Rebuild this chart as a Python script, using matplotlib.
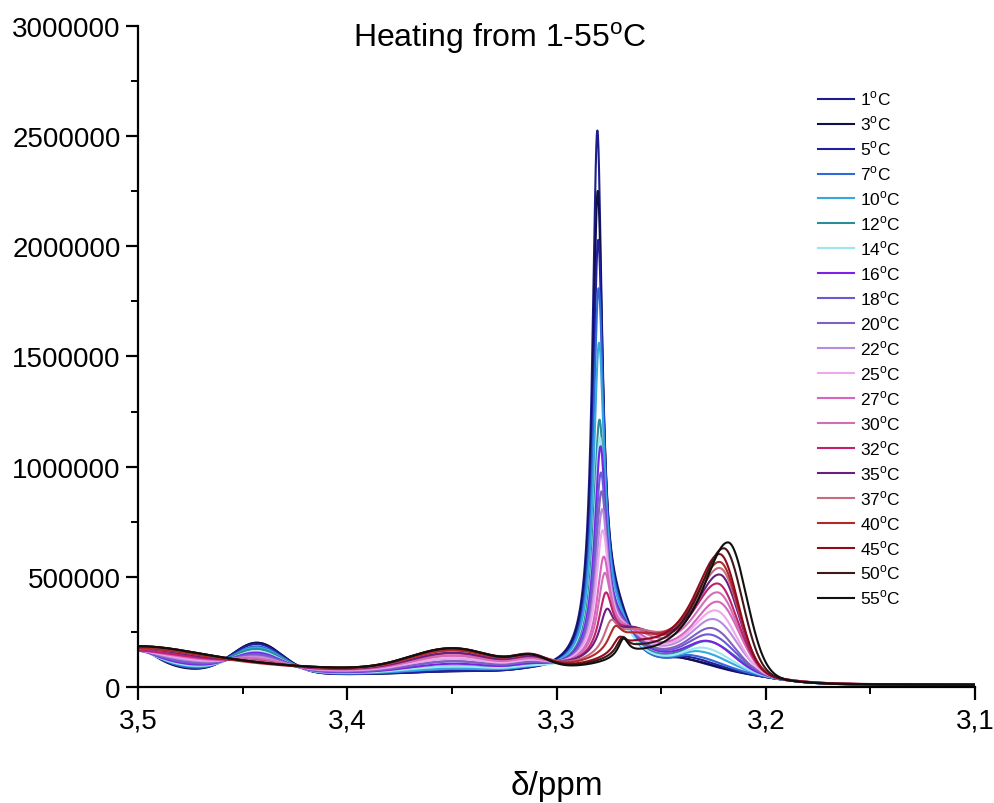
import numpy as np
import matplotlib
matplotlib.use("Agg")
import matplotlib.pyplot as plt
from matplotlib import ticker

plt.rcParams["font.family"] = ["Liberation Sans", "DejaVu Sans"]
plt.rcParams["mathtext.fontset"] = "custom"
plt.rcParams["mathtext.rm"] = "Liberation Sans"

# temperatures of the heating series (°C)
temps = [1, 3, 5, 7, 10, 12, 14, 16, 18, 20, 22, 25, 27, 30, 32, 35, 37, 40, 45, 50, 55]

colors = ["#1c1c8c", "#10104a", "#2020a0", "#2f6ad8", "#35a8e0", "#2a8c98", "#9ce6f2",
          "#7b22e6", "#6a5ad6", "#8060c0", "#b88be0", "#f0a8ec", "#d864c0", "#d070b4",
          "#c0206c", "#6a1f80", "#c86a80", "#b02a2a", "#900c1c", "#401818", "#101010"]

# sharp resonance near 3.28 ppm
main_pos = [3.2805, 3.2803, 3.2801, 3.2799, 3.2797, 3.2795, 3.2793, 3.2790, 3.2788, 3.2785,
            3.2782, 3.2780, 3.2775, 3.2770, 3.2765, 3.2760, 3.2740, 3.2720, 3.2700, 3.2685, 3.2680]
main_h = [2.34e6, 2.07e6, 1.85e6, 1.64e6, 1.39e6, 1.05e6, 0.975e6, 0.93e6, 0.82e6, 0.73e6,
          0.65e6, 0.55e6, 0.43e6, 0.35e6, 0.26e6, 0.175e6, 0.12e6, 0.09e6, 0.06e6, 0.07e6, 0.08e6]
main_w = [0.0028, 0.0029, 0.0030, 0.0031, 0.0032, 0.0033, 0.0033, 0.0034, 0.0035, 0.0035,
          0.0036, 0.0037, 0.0038, 0.0039, 0.0040, 0.0041, 0.0040, 0.0038, 0.0035, 0.0032, 0.0030]

# broad shoulder on the high-field side of the sharp resonance
shoulder_pos = [3.272, 3.272, 3.272, 3.2715, 3.271, 3.270, 3.270, 3.269, 3.268, 3.268, 3.267,
                3.267, 3.266, 3.265, 3.264, 3.264, 3.263, 3.263, 3.262, 3.262, 3.262]
shoulder_h = [0.22e6, 0.21e6, 0.20e6, 0.19e6, 0.18e6, 0.17e6, 0.16e6, 0.16e6, 0.15e6, 0.15e6,
              0.14e6, 0.14e6, 0.14e6, 0.14e6, 0.14e6, 0.14e6, 0.13e6, 0.11e6, 0.07e6, 0.05e6, 0.03e6]
shoulder_w = [0.010, 0.010, 0.010, 0.010, 0.011, 0.011, 0.011, 0.012, 0.012, 0.012, 0.013,
              0.013, 0.013, 0.014, 0.014, 0.015, 0.015, 0.015, 0.015, 0.015, 0.015]

# asymmetric resonance growing near 3.22 ppm
sec_pos = [3.242, 3.240, 3.238, 3.236, 3.232, 3.228, 3.230, 3.228, 3.227, 3.226, 3.225,
           3.224, 3.223, 3.223, 3.223, 3.222, 3.222, 3.222, 3.222, 3.220, 3.218]
sec_h = [0.05e6, 0.05e6, 0.06e6, 0.07e6, 0.09e6, 0.14e6, 0.11e6, 0.14e6, 0.17e6, 0.20e6, 0.24e6,
         0.28e6, 0.32e6, 0.36e6, 0.40e6, 0.44e6, 0.47e6, 0.50e6, 0.54e6, 0.57e6, 0.60e6]
sec_wl = [0.012, 0.012, 0.012, 0.012, 0.014, 0.015, 0.015, 0.016, 0.016, 0.016, 0.016,
          0.016, 0.016, 0.016, 0.016, 0.016, 0.016, 0.016, 0.016, 0.016, 0.016]
sec_sr = [0.016, 0.016, 0.015, 0.015, 0.014, 0.013, 0.013, 0.012, 0.012, 0.011, 0.011,
          0.010, 0.010, 0.0095, 0.0095, 0.009, 0.009, 0.0088, 0.0087, 0.0087, 0.0087]

# 3.30-3.50 region
edge_narrow = [0.13e6, 0.12e6, 0.12e6, 0.11e6, 0.10e6, 0.09e6, 0.08e6, 0.07e6, 0.06e6, 0.05e6,
               0.04e6, 0.03e6, 0.02e6, 0.02e6, 0.01e6, 0.01e6, 0.0, 0.0, 0.0, 0.0, 0.0]
edge_broad = [0.0, 0.0, 0.01e6, 0.01e6, 0.02e6, 0.03e6, 0.03e6, 0.04e6, 0.05e6, 0.06e6, 0.07e6,
              0.08e6, 0.09e6, 0.10e6, 0.10e6, 0.11e6, 0.12e6, 0.12e6, 0.13e6, 0.13e6, 0.13e6]
hump_344 = [0.14e6, 0.14e6, 0.13e6, 0.12e6, 0.11e6, 0.10e6, 0.09e6, 0.08e6, 0.07e6, 0.06e6,
            0.05e6, 0.04e6, 0.03e6, 0.03e6, 0.02e6, 0.01e6, 0.01e6, 0.0, 0.0, 0.0, 0.0]
hump_335 = [0.01e6, 0.01e6, 0.01e6, 0.02e6, 0.02e6, 0.03e6, 0.03e6, 0.04e6, 0.05e6, 0.05e6,
            0.06e6, 0.06e6, 0.07e6, 0.07e6, 0.08e6, 0.08e6, 0.09e6, 0.09e6, 0.10e6, 0.10e6, 0.10e6]

x = np.linspace(3.1, 3.5, 3000)


def lor(x, p, h, w):
    return h / (1 + ((x - p) / w) ** 2)


def gau(x, p, h, w):
    return h * np.exp(-0.5 * ((x - p) / w) ** 2)


def split_peak(x, p, h, wl, sr):
    # Lorentzian towards higher ppm, Gaussian towards lower ppm
    return np.where(x >= p, lor(x, p, h, wl), gau(x, p, h, sr))


fig = plt.figure(figsize=(9.95, 8.04), dpi=100)
ax = fig.add_axes([0.1387, 0.1443, 0.8412, 0.8221])

for i, t in enumerate(temps):
    base = 0.045e6 / (1 + np.exp(-(x - 3.195) / 0.01)) + 0.008e6
    y = (base
         + lor(x, main_pos[i], main_h[i], main_w[i])
         + lor(x, shoulder_pos[i], shoulder_h[i], shoulder_w[i])
         + split_peak(x, sec_pos[i], sec_h[i], sec_wl[i], sec_sr[i])
         + lor(x, 3.50, edge_narrow[i], 0.013)
         + lor(x, 3.50, edge_broad[i], 0.05)
         + gau(x, 3.443, hump_344[i], 0.012)
         + gau(x, 3.350, hump_335[i], 0.02)
         + gau(x, 3.312, hump_335[i] * 0.5, 0.008))
    ax.plot(x, y, color=colors[i], lw=1.5, label=f"{t}$^\\mathrm{{o}}$C")

ax.set_xlim(3.5, 3.1)
ax.set_ylim(0, 3000000)
ax.xaxis.set_major_locator(ticker.MultipleLocator(0.1))
ax.xaxis.set_minor_locator(ticker.MultipleLocator(0.05))
ax.yaxis.set_major_locator(ticker.MultipleLocator(500000))
ax.yaxis.set_minor_locator(ticker.MultipleLocator(250000))
ax.xaxis.set_major_formatter(ticker.FuncFormatter(lambda v, _: f"{v:.1f}".replace(".", ",")))
ax.yaxis.set_major_formatter(ticker.FuncFormatter(lambda v, _: f"{int(round(v))}"))

for s in ("top", "right"):
    ax.spines[s].set_visible(False)
for s in ("left", "bottom"):
    ax.spines[s].set_linewidth(1.6)
ax.tick_params(which="major", length=9, width=1.6, labelsize=20, direction="out")
ax.tick_params(which="minor", length=5, width=1.4, direction="out")
ax.tick_params(axis="x", pad=6)

ax.set_xlabel("δ/ppm", fontsize=24, labelpad=26)
fig.text(0.502, 0.9415, "Heating from 1-55$^\\mathrm{o}$C", ha="center", va="baseline", fontsize=23)

ax.legend(loc="upper left", bbox_to_anchor=(0.822, 0.888), bbox_transform=fig.transFigure,
          frameon=False, fontsize=12.5, borderpad=0, borderaxespad=0, labelspacing=0.36,
          handlelength=2.1, handletextpad=0.3)

fig.savefig("out.png", dpi=100, facecolor="white")
